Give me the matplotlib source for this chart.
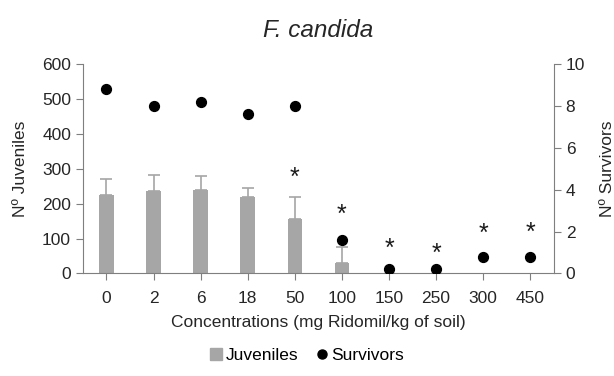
import numpy as np
import matplotlib
matplotlib.use('Agg')
import matplotlib.pyplot as plt
from matplotlib.lines import Line2D
from matplotlib.patches import Patch

plt.rcParams['font.family'] = ['Liberation Sans', 'DejaVu Sans']

concentrations = ['0', '2', '6', '18', '50', '100', '150', '250', '300', '450']
juveniles = [225, 236, 240, 219, 156, 29, 0, 0, 0, 0]
juveniles_err = [47, 46, 40, 26, 62, 48, 0, 0, 0, 0]
survivors = [8.8, 8.0, 8.2, 7.6, 8.0, 1.6, 0.2, 0.2, 0.8, 0.8]
# significant differences (asterisk height on the juveniles axis)
star_idx = [4, 5, 6, 7, 8, 9]
star_y = [275, 169, 70, 57, 112, 115]

bar_col = '#a6a6a6'
axis_col = '#7f7f7f'
text_col = '#262626'
fs = 12.5

fig = plt.figure(figsize=(6.14, 3.76), dpi=100)
ax = fig.add_axes([0.135, 0.273, 0.767, 0.556])
x = np.arange(len(concentrations))

ax.bar(x, juveniles, width=0.31, color=bar_col, zorder=2)
ax.errorbar(x[:6], juveniles[:6], yerr=[np.zeros(6), juveniles_err[:6]], fmt='none',
            ecolor=bar_col, elinewidth=1.2, capsize=4.5, capthick=1.2, zorder=2)
for i, yy in zip(star_idx, star_y):
    ax.text(x[i], yy, '*', ha='center', va='center', fontsize=18, color='#1a1a1a')

ax.set_ylim(0, 600)
ax.set_yticks(range(0, 601, 100))
ax.set_xlim(-0.5, len(concentrations) - 0.5)
ax.set_xticks(x)
ax.set_xticklabels(concentrations)
ax.set_ylabel('Nº Juveniles', fontsize=fs, color=text_col, labelpad=10)
ax.set_xlabel('Concentrations (mg Ridomil/kg of soil)', fontsize=fs, color=text_col, labelpad=6)
ax.set_title('F. candida', fontsize=17.5, style='italic', color=text_col, pad=20)

ax2 = ax.twinx()
ax2.scatter(x, survivors, s=50, color='black', zorder=3)
ax2.set_ylim(0, 10)
ax2.set_yticks(range(0, 11, 2))
ax2.set_ylabel('Nº Survivors', fontsize=fs, color=text_col, labelpad=11)

for a in (ax, ax2):
    a.spines['top'].set_visible(False)
    for s in ('left', 'right', 'bottom'):
        a.spines[s].set_color(axis_col)
    a.tick_params(colors=axis_col, labelcolor=text_col, labelsize=fs, length=5)
ax.tick_params(axis='x', pad=8)
ax2.spines['left'].set_visible(False)
ax2.spines['bottom'].set_visible(False)
ax.spines['right'].set_visible(False)

handles = [Patch(color=bar_col, label='Juveniles'),
           Line2D([], [], marker='o', color='black', linestyle='none', markersize=6.5, label='Survivors')]
fig.legend(handles=handles, loc='center', bbox_to_anchor=(0.5, 0.055), ncol=2, frameon=False,
           fontsize=fs, handlelength=0.7, handletextpad=0.2, columnspacing=1.0)

fig.savefig('out.png', dpi=100)
